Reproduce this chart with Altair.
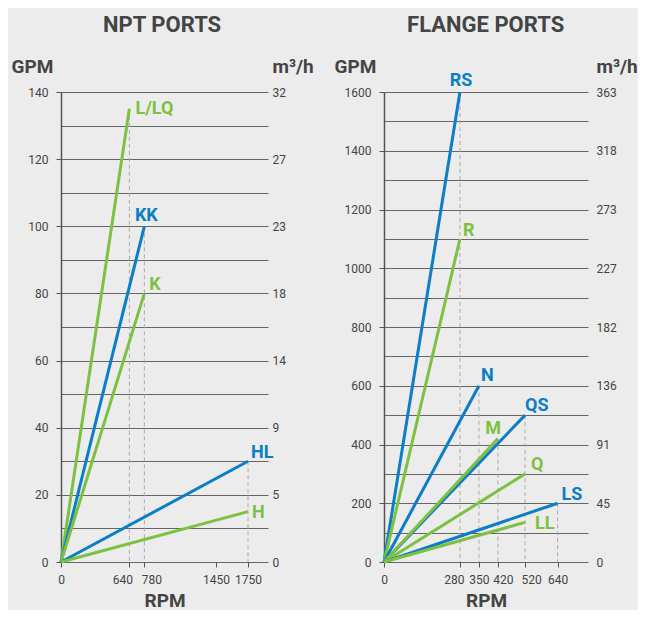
import altair as alt
import pandas as pd

# ---------------- data ----------------
npt_names = ["L/LQ", "KK", "K", "HL", "H"]
npt_rpm = [640, 780, 780, 1750, 1750]
npt_gpm = [135, 100, 80, 30, 15]
npt_family = ["green", "blue", "green", "blue", "green"]
npt_xticks = [0, 640, 780, 1450, 1750]
npt_yticks = [0, 20, 40, 60, 80, 100, 120, 140]
npt_ygrid = [0, 10, 20, 30, 40, 50, 60, 70, 80, 90, 100, 110, 120, 130, 140]

flange_names = ["RS", "R", "N", "QS", "M", "Q", "LS", "LL"]
flange_rpm = [280, 280, 350, 520, 420, 520, 640, 520]
flange_gpm = [1600, 1100, 600, 500, 420, 300, 200, 135]
flange_family = ["blue", "green", "blue", "blue", "green", "green", "blue", "green"]
flange_xticks = [0, 280, 350, 420, 520, 640]
flange_yticks = [0, 200, 400, 600, 800, 1000, 1200, 1400, 1600]
flange_ygrid = [0, 100, 200, 300, 400, 500, 600, 700, 800, 900, 1000,
                1100, 1200, 1300, 1400, 1500, 1600]

GPM_TO_M3H = 0.2271

# ---------------- style ----------------
BLUE = "#0b7dc9"
GREEN = "#7cc142"
TXT = "#444444"
BOLDF = "Roboto, sans-serif"
TICKF = "Roboto, sans-serif"

# label placement: align, baseline, dx, dy
label_style = {
    "L/LQ": ("left", "middle", 6, 0),
    "KK": ("center", "alphabetic", 2, -5),
    "K": ("left", "alphabetic", 5, -3),
    "HL": ("left", "alphabetic", 3, -3),
    "H": ("left", "middle", 4, 1),
    "RS": ("center", "alphabetic", 1, -6),
    "R": ("left", "alphabetic", 3, -3),
    "N": ("left", "alphabetic", 2, -5),
    "QS": ("left", "alphabetic", 0, -4),
    "M": ("right", "alphabetic", 3, -5),
    "Q": ("left", "alphabetic", 6, -4),
    "LS": ("left", "alphabetic", 4, -3),
    "LL": ("left", "middle", 10, 2),
}

# horizontal nudges of crowded RPM tick labels (pixels)
npt_tick_nudge = {640: -7, 780: 7}
flange_tick_nudge = {280: -6, 420: 5, 520: 6}

color_scale = alt.Scale(domain=["blue", "green"], range=[BLUE, GREEN])


def panel(title, names, rpm, gpm, family, xticks, yticks, ygrid,
          xmax, width, right_pad, nudge):
    ymax = yticks[-1]
    step = yticks[1]
    ends = pd.DataFrame({"name": names, "rpm": rpm, "gpm": gpm, "family": family})
    origin = ends.assign(rpm=0, gpm=0)
    lines_df = pd.concat([origin, ends], ignore_index=True)
    drop = ends.groupby("rpm", as_index=False)["gpm"].max()
    drop["base"] = 0

    xs = alt.Scale(domain=[0, xmax], nice=False)
    ys = alt.Scale(domain=[0, ymax], nice=False)

    x_axis = alt.Axis(
        values=xticks, grid=False, domain=False, ticks=True, tickSize=5,
        tickColor="#555555", labelFont=TICKF, labelFontSize=12, labelColor=TXT,
        labelPadding=7, labelFlush=False, labelOverlap=False, format="d",
        labelOffset={
            "condition": [
                {"test": f"datum.value === {v}", "value": o} for v, o in nudge.items()
            ],
            "value": 0,
        },
        title="RPM", titleFont=BOLDF, titleFontSize=19, titleFontWeight="bold",
        titleColor=TXT, titlePadding=6,
    )
    left_axis = alt.Axis(
        orient="left", values=ygrid, grid=True, gridColor="#666666", gridWidth=1,
        domain=True, domainColor="#555555", domainWidth=1.5,
        tickColor="#555555", tickSize=5,
        tickOpacity={"condition": {"test": f"datum.value % {step} === 0", "value": 1}, "value": 0},
        labelExpr=f"datum.value % {step} === 0 ? datum.label : ''",
        labelFont=TICKF, labelFontSize=12, labelColor=TXT, labelPadding=8,
        labelOverlap=False, format="d",
        title="GPM", titleAngle=0, titleX=-50, titleY=-20, titleAlign="left",
        titleBaseline="alphabetic", titleFont=BOLDF, titleFontSize=19,
        titleFontWeight="bold", titleColor=TXT,
    )
    right_axis = alt.Axis(
        orient="right", values=yticks, grid=False, domain=False, ticks=False,
        tickSize=0,
        labelExpr=f"'' + round(datum.value * {GPM_TO_M3H})",
        labelFont=TICKF, labelFontSize=12, labelColor=TXT, labelPadding=right_pad,
        labelOverlap=False,
        title="m³/h", titleAngle=0, titleX=right_pad, titleY=-20, titleAlign="left",
        titleBaseline="alphabetic", titleFont=BOLDF, titleFontSize=19,
        titleFontWeight="bold", titleColor=TXT,
    )

    rules = alt.Chart(drop).mark_rule(
        strokeDash=[4, 3], color="#aaaaaa", strokeWidth=1
    ).encode(
        x=alt.X("rpm:Q", scale=xs, axis=x_axis),
        y=alt.Y("gpm:Q", scale=ys, axis=right_axis),
        y2="base:Q",
    )
    lines = alt.Chart(lines_df).mark_line(strokeWidth=3).encode(
        x=alt.X("rpm:Q", scale=xs, axis=x_axis),
        y=alt.Y("gpm:Q", scale=ys, axis=left_axis),
        detail="name:N",
        color=alt.Color("family:N", scale=color_scale, legend=None),
    )
    texts = []
    for n in names:
        al, bl, dx, dy = label_style[n]
        texts.append(
            alt.Chart(ends).transform_filter(alt.datum.name == n).mark_text(
                align=al, baseline=bl, dx=dx, dy=dy, font=BOLDF,
                fontSize=18, fontWeight="bold",
            ).encode(
                x=alt.X("rpm:Q", scale=xs, axis=x_axis),
                y=alt.Y("gpm:Q", scale=ys, axis=None),
                text="name:N",
                color=alt.Color("family:N", scale=color_scale, legend=None),
            )
        )
    return alt.layer(rules, lines, *texts).resolve_axis(y="independent").properties(
        width=width, height=470,
        title=alt.TitleParams(
            title, font=BOLDF, fontSize=22, fontWeight="bold", color=TXT,
            anchor="middle", frame="bounds", offset=20,
        ),
    )


left = panel("NPT PORTS", npt_names, npt_rpm, npt_gpm, npt_family,
             npt_xticks, npt_yticks, npt_ygrid, 1937, 207, 4, npt_tick_nudge)
right = panel("FLANGE PORTS", flange_names, flange_rpm, flange_gpm, flange_family,
              flange_xticks, flange_yticks, flange_ygrid, 752, 204, 8,
              flange_tick_nudge)

chart = alt.hconcat(left, right, spacing=20).configure(
    background="#ececec",
    padding={"left": 3, "top": 6, "right": 0, "bottom": 0},
).configure_view(stroke=None)

chart.save("out.html", embed_options={"renderer": "svg", "actions": False})
